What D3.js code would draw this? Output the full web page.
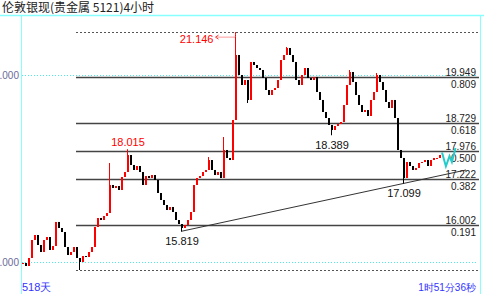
<!DOCTYPE html>
<html lang="zh">
<head>
<meta charset="UTF-8">
<title>伦敦银现 4小时</title>
<style>
  body { margin:0; background:#fff; }
  svg { display:block; font-family:"Liberation Sans", Arial, sans-serif; }
</style>
</head>
<body>
<script src="https://d3js.org/d3.v7.min.js"></script>
<script>
// closing prices, one per 4h bar
var closes = [
  14.973, 14.893, 15.107, 15.588, 15.722, 15.455, 15.267, 15.588, 15.668, 15.321,
  15.428, 16.070, 15.909, 15.802, 15.401, 15.187, 15.267, 15.401, 15.107, 15.000,
  15.160, 15.134, 15.267, 15.401, 15.936, 16.176, 16.123, 16.230, 16.310, 17.059,
  16.979, 17.032, 16.925, 17.273, 17.406, 17.861, 17.594, 17.460, 17.567, 17.406,
  17.059, 17.299, 17.246, 17.326, 17.193, 16.845, 16.658, 16.524, 16.390, 16.471,
  16.337, 16.123, 16.016, 15.909, 15.989, 16.123, 16.337, 17.059, 17.246, 17.299,
  17.406, 17.460, 17.727, 17.460, 17.326, 17.406, 17.246, 17.995, 17.781, 17.727,
  18.797, 20.535, 20.000, 19.733, 19.866, 19.332, 20.348, 20.267, 20.187, 20.134,
  19.920, 19.599, 19.465, 19.599, 19.652, 19.866, 20.401, 20.535, 20.722, 20.535,
  20.348, 19.866, 19.733, 20.000, 20.187, 19.920, 19.866, 19.947, 19.545, 19.332,
  19.011, 18.850, 18.663, 18.529, 18.636, 18.690, 18.743, 19.198, 19.733, 20.080,
  19.813, 19.465, 19.198, 19.011, 19.064, 18.904, 19.332, 19.545, 20.000, 19.813,
  19.599, 19.278, 19.118, 19.332, 18.850, 17.995, 17.781, 17.246, 17.674, 17.567,
  17.460, 17.513, 17.647, 17.674, 17.727, 17.567, 17.727, 17.781, 17.781, 17.861
];
// wick extremes that stick out past the bodies
var spikeIdx = [19, 29, 35, 53, 62, 67, 71, 75, 88, 103, 109, 118, 127];
var spikeVal = [14.786, 17.647, 18.015, 15.819, 17.807, 18.342, 21.146, 19.251, 20.749, 18.389, 20.134, 20.053, 17.099];

var fibPrices = ['19.949', '18.729', '17.976', '17.222', '16.002'];
var fibRatios = ['0.809', '0.618', '0.500', '0.382', '0.191'];
var fibEnds = [21.146, 14.78];
var fibStart = 18;

var gridLevels = [20, 15];
var gridLabels = ['20.000', '15.000'];

var hiIdx = [35], hiText = ['18.015'];
var loIdx = [53, 103, 127], loText = ['15.819', '18.389', '17.099'];
var topIdx = 71, topText = '21.146';

var trendIdx = [53, 148], trendVal = [15.819, 17.46];
var checkIdx = [140, 141.3, 142.5, 143.3, 144.5];
var checkVal = [17.93, 17.56, 17.83, 17.67, 18.05];

var width = 484, height = 300;
var svg = d3.select('body').append('svg')
    .attr('width', width)
    .attr('height', height);

var x = d3.scaleLinear().domain([0, closes.length - 1]).range([22, 439]);
var y = d3.scaleLinear().domain([15, 20]).range([262, 75]);

var opens = closes.map(function(c, i) { return i ? closes[i - 1] : c; });
var highs = closes.map(function(c, i) { return Math.max(c, opens[i]); });
var lows = closes.map(function(c, i) { return Math.min(c, opens[i]); });
spikeIdx.forEach(function(k, j) {
    if (spikeVal[j] > highs[k]) highs[k] = spikeVal[j];
    if (spikeVal[j] < lows[k]) lows[k] = spikeVal[j];
});

// frame
svg.append('text').attr('x', 2).attr('y', 12)
    .style('font-family', '"Noto Sans CJK SC", sans-serif')
    .style('font-size', '12px').attr('fill', '#222')
    .text('伦敦银现(贵金属 5121)4小时');
svg.append('line').attr('x1', 0).attr('x2', width).attr('y1', 15.5).attr('y2', 15.5)
    .attr('stroke', '#8ff').attr('stroke-width', 1.5);
svg.append('line').attr('x1', 21.5).attr('x2', 21.5).attr('y1', 15).attr('y2', 294)
    .attr('stroke', '#8ff');
svg.append('line').attr('x1', 480.5).attr('x2', 480.5).attr('y1', 15).attr('y2', 294)
    .attr('stroke', '#8ff');

// price grid
gridLevels.forEach(function(v, i) {
    svg.append('line').attr('x1', 22).attr('x2', 478)
        .attr('y1', Math.round(y(v)) + 0.5).attr('y2', Math.round(y(v)) + 0.5)
        .attr('stroke', '#4ee').attr('stroke-dasharray', '1,2');
    svg.append('text').attr('x', 19).attr('y', y(v) + 4)
        .attr('text-anchor', 'end').style('font-size', '10px')
        .attr('fill', '#6a6a9a').text(gridLabels[i]);
});

// fibonacci
var fx0 = x(fibStart);
fibEnds.forEach(function(v) {
    svg.append('line').attr('x1', fx0).attr('x2', 479)
        .attr('y1', Math.round(y(v)) + 0.5).attr('y2', Math.round(y(v)) + 0.5)
        .attr('stroke', '#555').attr('stroke-dasharray', '2,2');
});
fibPrices.forEach(function(p, i) {
    var yy = Math.round(y(+p)) + 0.5;
    svg.append('line').attr('x1', fx0).attr('x2', 479)
        .attr('y1', yy).attr('y2', yy)
        .attr('stroke', '#444').attr('stroke-width', 1.3);
    svg.append('text').attr('x', 476).attr('y', yy - 2)
        .attr('text-anchor', 'end').style('font-size', '10px').attr('fill', '#222').text(p);
    svg.append('text').attr('x', 476).attr('y', yy + 10)
        .attr('text-anchor', 'end').style('font-size', '10px').attr('fill', '#222').text(fibRatios[i]);
});

// trend line
svg.append('line')
    .attr('x1', x(trendIdx[0])).attr('y1', y(trendVal[0]))
    .attr('x2', x(trendIdx[1])).attr('y2', y(trendVal[1]))
    .attr('stroke', '#333').attr('stroke-width', 1);

// candles
var bars = svg.append('g').selectAll('g').data(closes).enter().append('g');
bars.append('line')
    .attr('x1', function(d, i) { return Math.round(x(i)) + 0.5; })
    .attr('x2', function(d, i) { return Math.round(x(i)) + 0.5; })
    .attr('y1', function(d, i) { return y(highs[i]); })
    .attr('y2', function(d, i) { return y(lows[i]); })
    .attr('stroke', function(d, i) { return d >= opens[i] ? '#f00' : '#000'; });
bars.append('rect')
    .attr('x', function(d, i) { return Math.round(x(i)); })
    .attr('width', 2)
    .attr('y', function(d, i) { return y(Math.max(d, opens[i])); })
    .attr('height', function(d, i) { return Math.max(1, y(Math.min(d, opens[i])) - y(Math.max(d, opens[i]))); })
    .attr('fill', function(d, i) { return d >= opens[i] ? '#f00' : '#000'; });

// extreme labels
hiIdx.forEach(function(k, j) {
    svg.append('text').attr('x', x(k) + 1).attr('y', y(highs[k]) - 3)
        .attr('text-anchor', 'middle').style('font-size', '11px')
        .attr('fill', '#f00').text(hiText[j]);
});
loIdx.forEach(function(k, j) {
    svg.append('text').attr('x', x(k) + 1).attr('y', y(lows[k]) + 14)
        .attr('text-anchor', 'middle').style('font-size', '11px')
        .attr('fill', '#111').text(loText[j]);
});
var tx = Math.round(x(topIdx)) + 0.5, ty = y(highs[topIdx]);
svg.append('path')
    .attr('d', 'M' + (tx - 18) + ',' + (ty + 5) + 'H' + tx + 'V' + ty)
    .attr('fill', 'none').attr('stroke', '#f33').attr('stroke-dasharray', '1,1');
svg.append('path')
    .attr('d', 'M' + (tx - 17) + ',' + (ty + 3) + 'L' + (tx - 20) + ',' + (ty + 5) + 'L' + (tx - 17) + ',' + (ty + 7))
    .attr('fill', 'none').attr('stroke', '#f33');
svg.append('text').attr('x', tx - 22).attr('y', ty + 11)
    .attr('text-anchor', 'end').style('font-size', '11px')
    .attr('fill', '#f00').text(topText);

// cyan check mark at the last bar
svg.append('path')
    .attr('d', d3.line()(checkIdx.map(function(k, j) { return [x(k), y(checkVal[j])]; })))
    .attr('fill', 'none').attr('stroke', '#2cc').attr('stroke-width', 2);

// footer
svg.append('text').attr('x', 22).attr('y', 291)
    .style('font-size', '11px').attr('fill', '#33f').text('518天');
svg.append('text').attr('x', 476).attr('y', 291)
    .attr('text-anchor', 'end').style('font-size', '10px').attr('fill', '#33f').text('1时51分36秒');
</script>
</body>
</html>
